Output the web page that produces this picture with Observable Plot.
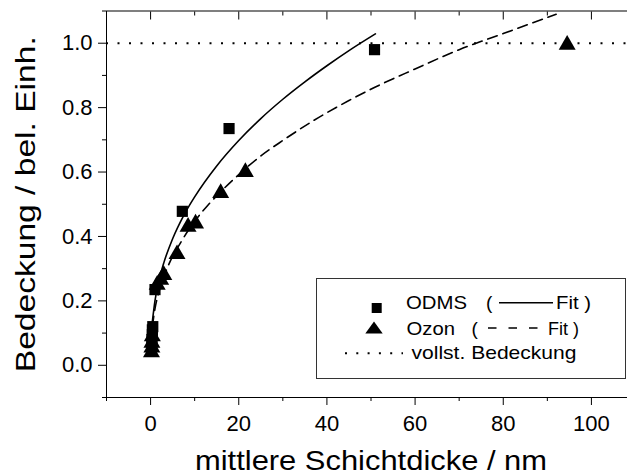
<!DOCTYPE html>
<html>
<head>
<meta charset="utf-8">
<script src="https://cdn.jsdelivr.net/npm/d3@7"></script>
<script src="https://cdn.jsdelivr.net/npm/@observablehq/plot@0.6"></script>
<style>
  html, body { margin: 0; padding: 0; background: #fff; overflow: hidden; }
  #wrap { position: relative; width: 627px; height: 476px; overflow: hidden; }
  #wrap > svg { max-width: none !important; }
  #legend { position: absolute; left: 0; top: 0; }
</style>
</head>
<body>
<div id="wrap"></div>
<script>
// ODMS measured points
const odmsX = [0.3, 0.3, 0.4, 0.4, 0.5, 1.0, 7.2, 17.8, 50.8];
const odmsY = [0.065, 0.08, 0.095, 0.11, 0.12, 0.235, 0.478, 0.735, 0.98];
// Ozon measured points
const ozonX = [0.2, 0.3, 0.3, 0.4, 1.5, 2.3, 3.0, 6.0, 8.5, 10.2, 15.9, 21.5, 94.5];
const ozonY = [0.04, 0.055, 0.07, 0.09, 0.25, 0.265, 0.28, 0.345, 0.43, 0.44, 0.535, 0.6, 0.995];
// Fit curves
const odmsFitX = [0.35, 1, 2, 3, 5, 7.5, 10, 15, 20, 25, 30, 35, 40, 45, 51];
const odmsFitY = [0.130, 0.201, 0.268, 0.318, 0.393, 0.465, 0.523, 0.619, 0.698, 0.766, 0.826, 0.880, 0.930, 0.977, 1.029];
const ozonFitX = [0.4, 1, 2, 4, 7, 10, 13, 16, 20, 25, 30, 37, 45, 51, 60, 70, 80, 92];
const ozonFitY = [0.121, 0.176, 0.233, 0.309, 0.385, 0.447, 0.497, 0.540, 0.592, 0.650, 0.698, 0.760, 0.822, 0.864, 0.920, 0.980, 1.030, 1.090];
// full coverage level
const fullCoverage = [1.0];
// ticks
const xMajorTicks = [0, 20, 40, 60, 80, 100];
const xMinorTicks = [-10, 10, 30, 50, 70, 90, 110];
const yMajorTicks = [0.0, 0.2, 0.4, 0.6, 0.8, 1.0];
const yMinorTicks = [-0.1, 0.1, 0.3, 0.5, 0.7, 0.9, 1.1];

const zip = (xs, ys) => xs.map((x, i) => ({x, y: ys[i]}));
const odms = zip(odmsX, odmsY);
const ozon = zip(ozonX, ozonY);
const odmsFit = zip(odmsFitX, odmsFitY);
const ozonFit = zip(ozonFitX, ozonFitY);
const blank = () => "";
const FONT = "'Liberation Sans', Arial, sans-serif";

const chart = Plot.plot({
  width: 640,
  height: 476,
  marginLeft: 106,
  marginRight: 5,
  marginTop: 10.5,
  marginBottom: 79,
  x: {domain: [-10, 110]},
  y: {domain: [-0.1, 1.1]},
  style: {fontFamily: FONT, color: "black", background: "white", maxWidth: "none"},
  marks: [
    Plot.ruleY(fullCoverage, {stroke: "black", strokeWidth: 2, strokeDasharray: "2,9.5"}),
    Plot.line(odmsFit, {x: "x", y: "y", curve: "monotone-x", stroke: "black", strokeWidth: 1.6}),
    Plot.line(ozonFit, {x: "x", y: "y", curve: "monotone-x", stroke: "black", strokeWidth: 1.6, strokeDasharray: "10,6"}),
    Plot.dot(odms, {x: "x", y: "y", symbol: "square", fill: "black", r: 6.3}),
    Plot.dot(ozon, {x: "x", y: "y", symbol: "triangle", fill: "black", r: 6.3}),
    Plot.frame({stroke: "black"}),
    Plot.axisX(xMajorTicks, {tickSize: 8, tickPadding: 10, fontSize: 22, label: null}),
    Plot.axisX(xMinorTicks, {tickSize: 4, tickFormat: blank, label: null}),
    Plot.axisX(xMajorTicks, {anchor: "top", tickSize: -8, tickFormat: blank, label: null}),
    Plot.axisX(xMinorTicks, {anchor: "top", tickSize: -4, tickFormat: blank, label: null}),
    Plot.axisX([], {label: "mittlere Schichtdicke / nm", labelAnchor: "center", labelArrow: "none", labelOffset: 72, fontSize: 28}),
    Plot.axisY(yMajorTicks, {tickSize: 8, tickPadding: 6, fontSize: 22, tickFormat: d3.format(".1f"), label: null}),
    Plot.axisY(yMinorTicks, {tickSize: 4, tickFormat: blank, label: null}),
    Plot.axisY(yMajorTicks, {anchor: "right", tickSize: -8, tickFormat: blank, label: null, stroke: "#999"}),
    Plot.axisY([], {label: "Bedeckung / bel. Einh.", labelAnchor: "center", labelArrow: "none", labelOffset: 91, fontSize: 28})
  ]
});
chart.style.maxWidth = "none";
const wrap = document.getElementById("wrap");
wrap.appendChild(chart);

// stretch axis titles to the reference widths
d3.select(chart).selectAll('g[aria-label="x-axis label"] text')
  .attr("textLength", 352).attr("lengthAdjust", "spacingAndGlyphs");
d3.select(chart).selectAll('g[aria-label="y-axis label"] text')
  .attr("textLength", 336).attr("lengthAdjust", "spacingAndGlyphs");

// Legend (box drawn on top of the chart)
const lg = d3.select(wrap).append("svg")
  .attr("id", "legend")
  .attr("width", 627).attr("height", 476)
  .style("font-family", FONT);
lg.append("rect").attr("x", 316.5).attr("y", 278.5).attr("width", 309).attr("height", 100)
  .attr("fill", "white").attr("stroke", "#333").attr("stroke-width", 1);
const fs = 19;
const txt = (x, y, s, len) => {
  const t = lg.append("text").attr("x", x).attr("y", y).attr("font-size", fs).text(s);
  if (len) t.attr("textLength", len).attr("lengthAdjust", "spacingAndGlyphs");
  return t;
};
// row 1
lg.append("rect").attr("x", 371.7).attr("y", 303).attr("width", 10).attr("height", 10).attr("fill", "black");
txt(406, 309.3, "ODMS", 61);
txt(486, 309.3, "(");
lg.append("line").attr("x1", 499).attr("x2", 553).attr("y1", 302.7).attr("y2", 302.7).attr("stroke", "black").attr("stroke-width", 1.6);
txt(556, 309.3, "Fit )", 35);
// row 2
lg.append("path").attr("d", "M374,321.5 L382.7,333.5 L365.3,333.5 Z").attr("fill", "black");
txt(406.5, 335, "Ozon", 48.5);
txt(471.5, 335, "(");
lg.append("line").attr("x1", 488).attr("x2", 539).attr("y1", 328).attr("y2", 328).attr("stroke", "black").attr("stroke-width", 1.6).attr("stroke-dasharray", "8.5,12");
txt(548, 335, "Fit )", 31);
// row 3
lg.append("line").attr("x1", 345).attr("x2", 403).attr("y1", 353.3).attr("y2", 353.3).attr("stroke", "black").attr("stroke-width", 2).attr("stroke-dasharray", "2,9.3");
txt(411.5, 359.3, "vollst. Bedeckung", 165);
</script>
</body>
</html>
